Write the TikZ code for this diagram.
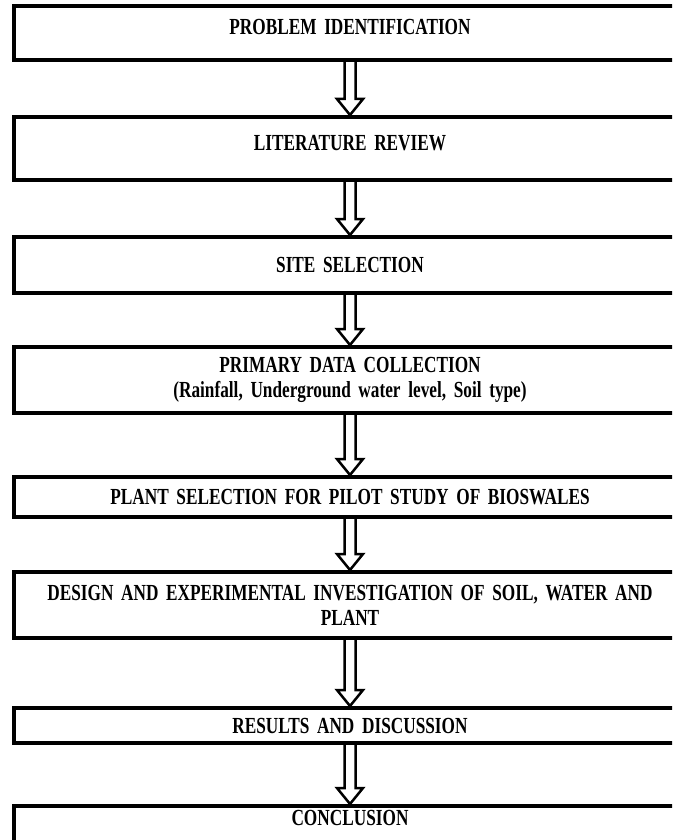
\documentclass[tikz,border=0pt]{standalone}
\usepackage{fontspec}
\setmainfont{Liberation Serif}[FakeStretch=0.75]
\usetikzlibrary{calc}

\begin{document}
\begin{tikzpicture}[x=1pt,y=-1pt,
 box/.style={draw=black,line width=4pt,minimum width=672pt,text width=660pt,
 align=center,inner sep=0pt,font=\bfseries\fontsize{23}{25}\selectfont},
 hollow/.style={draw=black,line width=2.5pt,line join=miter}]
\clip (0,0) rectangle (672,840);
\node[box,minimum height=54pt,text depth=12pt] (prob) at (350,33) {PROBLEM IDENTIFICATION};
\node[box,minimum height=63pt,text depth=11pt] (lit) at (350,148.5) {LITERATURE REVIEW};
\node[box,minimum height=56pt] (site) at (350,265) {SITE SELECTION};
\node[box,minimum height=66pt] (data) at (350,380) {PRIMARY\ DATA\ COLLECTION\\(Rainfall, Underground water level, Soil type)};
\node[box,minimum height=40pt] (plant) at (350,497) {PLANT SELECTION FOR PILOT STUDY\ OF BIOSWALES};
\node[box,minimum height=66pt] (design) at (350,605) {DESIGN AND EXPERIMENTAL INVESTIGATION OF SOIL, WATER AND\\PLANT};
\node[box,minimum height=35pt] (res) at (350,725.5) {RESULTS AND DISCUSSION};
\node[box,minimum height=74pt,text depth=50pt] (concl) at (350,843) {CONCLUSION};
% hollow arrows between the steps
\foreach \a/\b in {prob/lit,lit/site,site/data,data/plant,plant/design,design/res,res/concl}
 \draw[hollow] ($(\a.south)+(-5.5,0)$) -- ($(\b.north)+(-5.5,-16)$) -- ++(-7.5,0)
 -- (\b.north) -- ($(\b.north)+(13,-16)$) -- ++(-7.5,0) -- ($(\a.south)+(5.5,0)$);
\end{tikzpicture}
\end{document}
